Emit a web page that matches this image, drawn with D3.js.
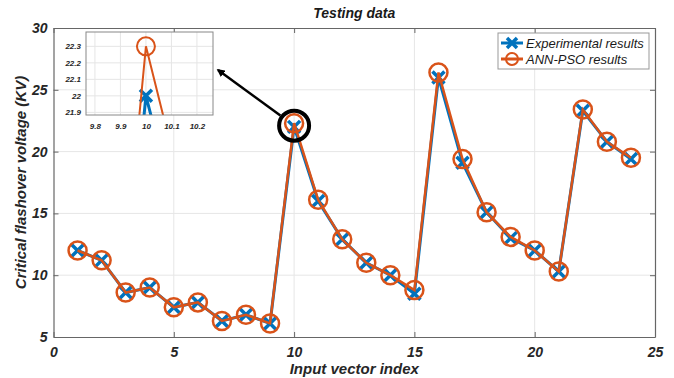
<!DOCTYPE html>
<html>
<head>
<meta charset="utf-8">
<script src="https://cdn.jsdelivr.net/npm/d3@7"></script>
<style>
  body { margin: 0; background: #fff; }
  svg { font-family: "Liberation Sans", Arial, sans-serif; }
  .tick text { font-weight: bold; font-style: italic; fill: #262626; }
</style>
</head>
<body>
<div id="chart"></div>
<script>
// data
var idx = [1, 2, 3, 4, 5, 6, 7, 8, 9, 10, 11, 12, 13, 14, 15, 16, 17, 18, 19, 20, 21, 22, 23, 24];
var experimental = [12.0, 11.2, 8.6, 9.0, 7.4, 7.8, 6.3, 6.8, 6.1, 22.0, 16.0, 12.9, 11.0, 10.0, 8.5, 26.0, 19.1, 15.1, 13.0, 12.0, 10.3, 23.3, 20.8, 19.4];
var annPso     = [12.0, 11.2, 8.6, 9.0, 7.4, 7.8, 6.3, 6.8, 6.1, 22.3, 16.1, 12.9, 11.0, 10.0, 8.8, 26.4, 19.4, 15.1, 13.1, 12.0, 10.3, 23.4, 20.8, 19.5];
var xTicks = [0, 5, 10, 15, 20, 25];
var yTicks = [5, 10, 15, 20, 25, 30];
var insetXTicks = [9.8, 9.9, 10, 10.1, 10.2];
var insetYTicks = [21.9, 22, 22.1, 22.2, 22.3];
var seriesNames = ["Experimental results", "ANN-PSO results"];

var blue = "#0072BD", orange = "#D95319";

var W = 674, H = 378;
var margin = {top: 28, right: 19, bottom: 41, left: 53.5};
var width = W - margin.left - margin.right,
    height = H - margin.top - margin.bottom;

var svg = d3.select("#chart").append("svg")
  .attr("width", W).attr("height", H);

var g = svg.append("g")
  .attr("transform", "translate(" + margin.left + "," + margin.top + ")");

var x = d3.scaleLinear().domain([0, 25]).range([0, width]);
var y = d3.scaleLinear().domain([5, 30]).range([height, 0]);

// grid
g.append("g").selectAll("line").data(xTicks.slice(1, -1)).enter().append("line")
  .attr("x1", d => x(d)).attr("x2", d => x(d)).attr("y1", 0).attr("y2", height)
  .attr("stroke", "#e6e6e6");
g.append("g").selectAll("line").data(yTicks.slice(1, -1)).enter().append("line")
  .attr("y1", d => y(d)).attr("y2", d => y(d)).attr("x1", 0).attr("x2", width)
  .attr("stroke", "#e6e6e6");

// axes (matlab-like box, ticks inward)
function styleAxis(sel) {
  sel.select(".domain").attr("stroke", "#666").attr("stroke-width", 1.2);
  sel.selectAll(".tick line").attr("stroke", "#666");
}
g.append("g").attr("transform", "translate(0," + height + ")")
  .call(d3.axisBottom(x).tickValues(xTicks).tickSizeInner(-5).tickSizeOuter(0).tickPadding(10))
  .call(styleAxis)
  .selectAll("text").style("font-size", "14px");
g.append("g")
  .call(d3.axisLeft(y).tickValues(yTicks).tickSizeInner(-5).tickSizeOuter(0).tickPadding(6))
  .call(styleAxis)
  .selectAll("text").style("font-size", "14px");
g.append("g")
  .call(d3.axisTop(x).tickValues(xTicks).tickSizeInner(-5).tickSizeOuter(0).tickFormat(""))
  .call(styleAxis);
g.append("g").attr("transform", "translate(" + width + ",0)")
  .call(d3.axisRight(y).tickValues(yTicks).tickSizeInner(-5).tickSizeOuter(0).tickFormat(""))
  .call(styleAxis);

// series
var line = d3.line().x(d => x(d[0])).y(d => y(d[1]));
var expPts = idx.map((d, i) => [d, experimental[i]]);
var annPts = idx.map((d, i) => [d, annPso[i]]);

function xMarker(sel, px, py, s, col) {
  sel.append("path")
    .attr("d", "M" + (px - s) + "," + (py - s) + "L" + (px + s) + "," + (py + s) +
               "M" + (px - s) + "," + (py + s) + "L" + (px + s) + "," + (py - s))
    .attr("stroke", col).attr("stroke-width", 3.5).attr("fill", "none");
}

g.append("path").datum(expPts).attr("d", line)
  .attr("fill", "none").attr("stroke", blue).attr("stroke-width", 3);
expPts.forEach(p => xMarker(g, x(p[0]), y(p[1]), 6, blue));

g.append("path").datum(annPts).attr("d", line)
  .attr("fill", "none").attr("stroke", orange).attr("stroke-width", 2.5);
g.append("g").selectAll("circle").data(annPts).enter().append("circle")
  .attr("cx", d => x(d[0])).attr("cy", d => y(d[1])).attr("r", 9)
  .attr("fill", "none").attr("stroke", orange).attr("stroke-width", 2.5);

// zoom annotation circle + arrow
var cx10 = x(10), cy10 = y(22.1);
g.append("circle").attr("cx", cx10).attr("cy", cy10).attr("r", 15)
  .attr("fill", "none").attr("stroke", "#000").attr("stroke-width", 4);

// inset
var inset = {left: 86 - margin.left, top: 32 - margin.top, w: 127, h: 83};
var ix = d3.scaleLinear().domain([9.765, 10.263]).range([0, inset.w]);
var iy = d3.scaleLinear().domain([21.884, 22.387]).range([inset.h, 0]);
var ig = g.append("g").attr("transform", "translate(" + inset.left + "," + inset.top + ")");
ig.append("rect").attr("width", inset.w).attr("height", inset.h).attr("fill", "#fff");
ig.append("g").selectAll("line").data(insetXTicks).enter().append("line")
  .attr("x1", d => ix(d)).attr("x2", d => ix(d)).attr("y1", 0).attr("y2", inset.h)
  .attr("stroke", "#e6e6e6");
ig.append("g").selectAll("line").data(insetYTicks).enter().append("line")
  .attr("y1", d => iy(d)).attr("y2", d => iy(d)).attr("x1", 0).attr("x2", inset.w)
  .attr("stroke", "#e6e6e6");
svg.append("defs").append("clipPath").attr("id", "insetClip")
  .append("rect").attr("width", inset.w).attr("height", inset.h);
var ic = ig.append("g").attr("clip-path", "url(#insetClip)");
var iline = d3.line().x(d => ix(d[0])).y(d => iy(d[1]));
ic.append("path").datum(expPts).attr("d", iline)
  .attr("fill", "none").attr("stroke", blue).attr("stroke-width", 3);
ic.append("path").datum(expPts.slice(9, 10)).attr("d", d => {
    var px = ix(d[0][0]), py = iy(d[0][1]), s = 6;
    return "M" + (px - s) + "," + (py - s) + "L" + (px + s) + "," + (py + s) +
           "M" + (px - s) + "," + (py + s) + "L" + (px + s) + "," + (py - s);
  })
  .attr("stroke", blue).attr("stroke-width", 3.5).attr("fill", "none");
ic.append("path").datum(annPts).attr("d", iline)
  .attr("fill", "none").attr("stroke", orange).attr("stroke-width", 2);
ic.append("circle").attr("cx", ix(annPts[9][0])).attr("cy", iy(annPts[9][1])).attr("r", 9)
  .attr("fill", "none").attr("stroke", orange).attr("stroke-width", 2);
ig.append("rect").attr("width", inset.w).attr("height", inset.h)
  .attr("fill", "none").attr("stroke", "#888").attr("stroke-width", 1);
ig.append("g").attr("transform", "translate(0," + inset.h + ")")
  .call(d3.axisBottom(ix).tickValues(insetXTicks).tickSize(0).tickPadding(8).tickFormat(d3.format("")))
  .call(a => a.select(".domain").remove())
  .selectAll("text").style("font-size", "8px");
ig.append("g")
  .call(d3.axisLeft(iy).tickValues(insetYTicks).tickSize(0).tickPadding(5).tickFormat(d3.format("")))
  .call(a => a.select(".domain").remove())
  .selectAll("text").style("font-size", "8px");

// arrow from circle to inset
svg.append("defs").append("marker").attr("id", "ah")
  .attr("viewBox", "0 0 10 10").attr("refX", 8).attr("refY", 5)
  .attr("markerWidth", 3.2).attr("markerHeight", 3.2).attr("orient", "auto")
  .append("path").attr("d", "M0,0L10,5L0,10z").attr("fill", "#000");
var ax0 = inset.left + inset.w + 5, ay0 = 70 - margin.top;
var ang = Math.atan2(cy10 - ay0, cx10 - ax0);
g.append("line")
  .attr("x1", cx10 - Math.cos(ang) * 17).attr("y1", cy10 - Math.sin(ang) * 17)
  .attr("x2", ax0).attr("y2", ay0)
  .attr("stroke", "#000").attr("stroke-width", 2.5).attr("marker-end", "url(#ah)");

// legend
var lg = g.append("g").attr("transform", "translate(" + (498 - margin.left) + "," + (33 - margin.top) + ")");
lg.append("rect").attr("width", 151).attr("height", 36)
  .attr("fill", "#fff").attr("stroke", "#999").attr("stroke-width", 1);
seriesNames.forEach(function(name, i) {
  var ly = 10 + i * 16;
  var col = i === 0 ? blue : orange;
  lg.append("line").attr("x1", 3).attr("x2", 25).attr("y1", ly).attr("y2", ly)
    .attr("stroke", col).attr("stroke-width", 3);
  if (i === 0) xMarker(lg, 14, ly, 5, blue);
  else lg.append("circle").attr("cx", 14).attr("cy", ly).attr("r", 6)
    .attr("fill", "none").attr("stroke", orange).attr("stroke-width", 2);
  lg.append("text").attr("x", 28).attr("y", ly).attr("dy", "0.35em")
    .style("font-size", "13px").style("font-style", "italic").style("font-weight", 500)
    .attr("fill", "#1a1a1a").text(name);
});

// title and labels
svg.append("text").attr("x", margin.left + width / 2).attr("y", 18)
  .attr("text-anchor", "middle").style("font-size", "14px")
  .style("font-weight", "bold").style("font-style", "italic").attr("fill", "#1a1a1a")
  .text("Testing data");
svg.append("text").attr("x", margin.left + width / 2).attr("y", 374)
  .attr("text-anchor", "middle").style("font-size", "15px")
  .style("font-weight", "bold").style("font-style", "italic").attr("fill", "#262626")
  .text("Input vector index");
svg.append("text")
  .attr("transform", "translate(26," + (margin.top + height / 2) + ") rotate(-90)")
  .attr("text-anchor", "middle").style("font-size", "15px")
  .style("font-weight", "bold").style("font-style", "italic").attr("fill", "#262626")
  .text("Critical flashover voltage (KV)");
</script>
</body>
</html>
